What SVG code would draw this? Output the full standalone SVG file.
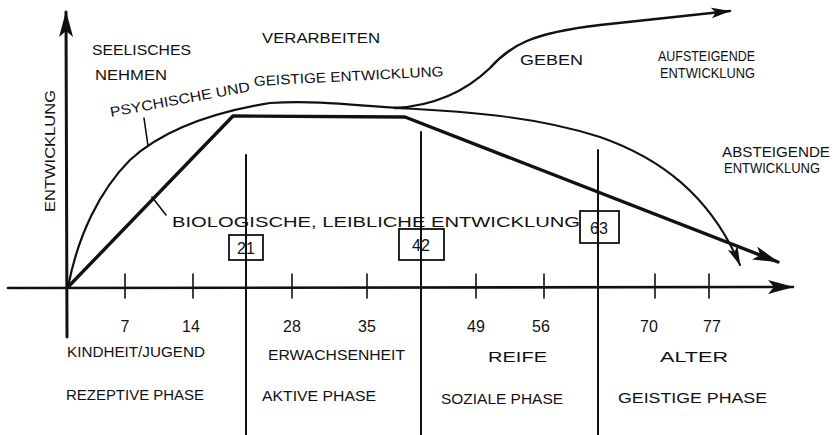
<svg xmlns="http://www.w3.org/2000/svg" width="836" height="435" viewBox="0 0 836 435">
<defs>
<style>
.ln{fill:none;stroke:#111;stroke-linecap:round;stroke-linejoin:round}
.t{font-family:"Liberation Sans",Arial,sans-serif;fill:#111;font-size:14px}
.n{font-family:"Liberation Sans",Arial,sans-serif;fill:#111;font-size:16px;text-anchor:middle}
.bx{fill:none;stroke:#111;stroke-width:1.8}
</style>
<marker id="ah" markerUnits="userSpaceOnUse" viewBox="0 0 26 16" markerWidth="26" markerHeight="16" refX="25" refY="8" orient="auto">
<path d="M0,1 L26,8 L0,15 L6,8 z" fill="#111"/>
</marker>
<marker id="ahs" markerUnits="userSpaceOnUse" viewBox="0 0 26 16" markerWidth="20" markerHeight="12" refX="25" refY="8" orient="auto">
<path d="M0,1 L26,8 L0,15 L6,8 z" fill="#111"/>
</marker>
</defs>
<rect width="836" height="435" fill="#fff"/>
<g id="connectors">
<path id="y-axis" class="ln" stroke-width="3" d="M67,337 L66,12" marker-end="url(#ah)"/>
<path id="x-axis" class="ln" stroke-width="2.6" d="M8,288 L793,287" marker-end="url(#ah)"/>
<g id="ticks" class="ln" stroke-width="1.6">
<path d="M125,274 V298 M193,274 V298 M292,274 V298 M367,274 V298 M476,274 V298 M544,274 V298 M655,274 V298 M709,274 V298"/>
</g>
<g id="dividers" class="ln" stroke-width="2">
<path d="M246,155 V435"/>
<path d="M421,132 V435"/>
<path d="M598,150 V435"/>
</g>
<path id="psych-curve" class="ln" stroke-width="2.2" d="M68,287 C78,235 100,190 130,160 C165,128 215,112 270,103 C320,100 360,106 400,108"/>
<path id="geben-curve" class="ln" stroke-width="2.4" d="M395,108 C430,106 462,95 490,68 C510,46 530,33 600,25 L730,11" marker-end="url(#ahs)"/>
<path id="absteigend-curve" class="ln" stroke-width="2" d="M395,108 C480,112 540,118 600,137 C660,158 710,195 740,265" marker-end="url(#ahs)"/>
<path id="bio-curve" class="ln" stroke-width="3.4" d="M68,287 L233,116 L405,117 L778,262" marker-end="url(#ah)"/>
<path id="psych-pointer" class="ln" stroke-width="1.6" d="M144,118 L148,146"/>
<path id="bio-pointer" class="ln" stroke-width="1.6" d="M152,197 L166,215"/>
</g>
<g id="axis-label">
<text class="t" transform="translate(55,212) rotate(-90)" textLength="122" lengthAdjust="spacingAndGlyphs">ENTWICKLUNG</text>
</g>
<g id="top-labels">
<text class="t" x="92" y="55" font-size="15" textLength="99" lengthAdjust="spacingAndGlyphs">SEELISCHES</text>
<text class="t" x="95" y="80" font-size="15" textLength="72" lengthAdjust="spacingAndGlyphs">NEHMEN</text>
<text class="t" x="262" y="43" font-size="15" textLength="118" lengthAdjust="spacingAndGlyphs">VERARBEITEN</text>
<text class="t" x="520" y="65" font-size="17" textLength="63" lengthAdjust="spacingAndGlyphs">GEBEN</text>
<text class="t" x="658" y="61" font-size="13" textLength="97" lengthAdjust="spacingAndGlyphs">AUFSTEIGENDE</text>
<text class="t" x="660" y="78" font-size="13" textLength="95" lengthAdjust="spacingAndGlyphs">ENTWICKLUNG</text>
<text class="t" x="722" y="157" font-size="14" textLength="108" lengthAdjust="spacingAndGlyphs">ABSTEIGENDE</text>
<text class="t" x="724" y="173" font-size="14" textLength="96" lengthAdjust="spacingAndGlyphs">ENTWICKLUNG</text>
</g>
<g id="psych-label">
<text class="t" font-size="17" transform="translate(111,117) rotate(-10.5)" textLength="142" lengthAdjust="spacingAndGlyphs">PSYCHISCHE UND</text>
<text class="t" font-size="16" transform="translate(254,86) rotate(-3)" textLength="190" lengthAdjust="spacingAndGlyphs">GEISTIGE ENTWICKLUNG</text>
</g>
<g id="bio-label">
<text class="t" x="172" y="227" font-size="20" textLength="408" lengthAdjust="spacingAndGlyphs">BIOLOGISCHE, LEIBLICHE ENTWICKLUNG</text>
</g>
<g id="node-21">
<rect class="bx" x="229" y="235" width="34" height="25"/>
<text class="n" x="246" y="254" font-size="17">21</text>
</g>
<g id="node-42">
<rect class="bx" x="399" y="229" width="45" height="31"/>
<text class="n" x="421" y="251" font-size="17">42</text>
</g>
<g id="node-63">
<rect class="bx" x="580" y="211" width="39" height="32"/>
<text class="n" x="599" y="234" font-size="17">63</text>
</g>
<g id="tick-labels">
<text class="n" x="125" y="332">7</text>
<text class="n" x="191" y="332">14</text>
<text class="n" x="292" y="332">28</text>
<text class="n" x="367" y="332">35</text>
<text class="n" x="476" y="332">49</text>
<text class="n" x="541" y="332">56</text>
<text class="n" x="649" y="332">70</text>
<text class="n" x="712" y="332">77</text>
</g>
<g id="ages">
<text class="t" x="67" y="357" font-size="15" textLength="138" lengthAdjust="spacingAndGlyphs">KINDHEIT/JUGEND</text>
<text class="t" x="268" y="360" font-size="15" textLength="137" lengthAdjust="spacingAndGlyphs">ERWACHSENHEIT</text>
<text class="t" x="488" y="362" font-size="16" textLength="59" lengthAdjust="spacingAndGlyphs">REIFE</text>
<text class="t" x="660" y="362" font-size="18" textLength="68" lengthAdjust="spacingAndGlyphs">ALTER</text>
</g>
<g id="phases">
<text class="t" x="66" y="400" font-size="13" textLength="138" lengthAdjust="spacingAndGlyphs">REZEPTIVE PHASE</text>
<text class="t" x="262" y="401" font-size="13" textLength="114" lengthAdjust="spacingAndGlyphs">AKTIVE PHASE</text>
<text class="t" x="441" y="404" font-size="14" textLength="122" lengthAdjust="spacingAndGlyphs">SOZIALE PHASE</text>
<text class="t" x="618" y="403" font-size="14" textLength="149" lengthAdjust="spacingAndGlyphs">GEISTIGE PHASE</text>
</g>
</svg>
